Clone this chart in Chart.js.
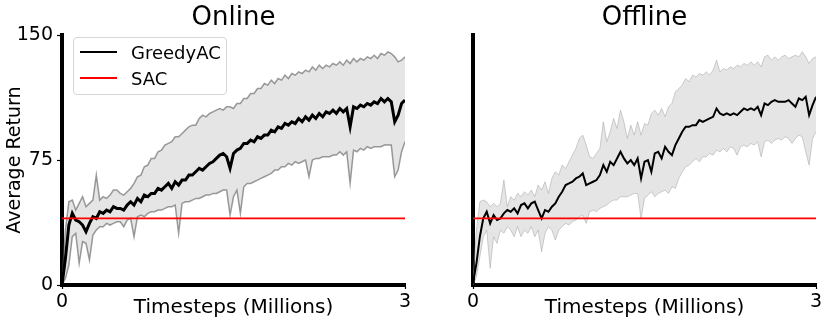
<!DOCTYPE html>
<html>
<head>
<meta charset="utf-8">
<script src="https://cdn.jsdelivr.net/npm/chart.js@4.4.1/dist/chart.umd.min.js"></script>
<style>
  body { margin: 0; background: #fff; width: 830px; height: 329px; position: relative; overflow: hidden; font-family: 'DejaVu Sans', sans-serif; }
  canvas { position: absolute; top: 0; }
  #onlineChart { left: 0; }
  #offlineChart { left: 415px; }
  #legend { position: absolute; left: 73px; top: 37px; width: 152px; height: 56px; border: 1px solid #d6d6d6; border-radius: 4px; background: rgba(255,255,255,0.8); }
  .item { position: absolute; left: 6px; height: 20px; display: flex; align-items: center; font-size: 18px; color: #000; }
  .swatch { width: 37px; height: 2px; margin-right: 14px; }
</style>
</head>
<body>
<canvas id="onlineChart" width="415" height="329"></canvas>
<canvas id="offlineChart" width="415" height="329"></canvas>
<div id="legend"></div>
<script>
// timesteps in millions, shared by both panels
var timesteps = [
  0, 0.03, 0.06, 0.09, 0.12, 0.15, 0.18, 0.21, 0.24, 0.27,
  0.3, 0.33, 0.36, 0.39, 0.42, 0.45, 0.48, 0.51, 0.54, 0.57,
  0.6, 0.63, 0.66, 0.69, 0.72, 0.75, 0.78, 0.81, 0.84, 0.87,
  0.9, 0.93, 0.96, 0.99, 1.02, 1.05, 1.08, 1.11, 1.14, 1.17,
  1.2, 1.23, 1.26, 1.29, 1.32, 1.35, 1.38, 1.41, 1.44, 1.47,
  1.5, 1.53, 1.56, 1.59, 1.62, 1.65, 1.68, 1.71, 1.74, 1.77,
  1.8, 1.83, 1.86, 1.89, 1.92, 1.95, 1.98, 2.01, 2.04, 2.07,
  2.1, 2.13, 2.16, 2.19, 2.22, 2.25, 2.28, 2.31, 2.34, 2.37,
  2.4, 2.43, 2.46, 2.49, 2.52, 2.55, 2.58, 2.61, 2.64, 2.67,
  2.7, 2.73, 2.76, 2.79, 2.82, 2.85, 2.88, 2.91, 2.94, 2.97,
  3
];

// Online: GreedyAC mean and band
var onlineMean = [
  0, 16, 36, 43, 39, 38, 36, 32, 37, 41,
  40, 44, 43, 45, 44, 47, 46, 46, 45, 48,
  50, 48, 52, 50, 54, 53, 55, 55, 58, 57,
  59, 61, 58, 62, 60, 63, 63, 66, 66, 68,
  70, 69, 71, 73, 74, 76, 78, 79, 77, 70,
  79, 81, 82, 85, 85, 87, 86, 89, 88, 90,
  90, 93, 92, 95, 94, 97, 96, 98, 97, 100,
  98, 101, 99, 102, 100, 103, 101, 104, 103, 105,
  103, 106, 104, 106, 95, 107, 106, 108, 107, 109,
  108, 110, 109, 112, 110, 112, 110, 98, 102, 109,
  111
];
var onlineUpper = [
  2, 33, 50, 51, 45, 49, 53, 47, 49, 51,
  66, 51, 53, 52, 54, 57, 57, 55, 54, 56,
  58, 61, 65, 66, 71, 72, 76, 76, 80, 81,
  84, 85, 86, 89, 89, 91, 93, 95, 96, 96,
  100, 102, 101, 103, 104, 105, 106, 105, 107, 107,
  106, 109, 109, 112, 112, 115, 115, 118, 118, 121,
  120, 123, 121, 124, 123, 126, 124, 127, 126, 128,
  127, 129, 128, 131, 129, 132, 130, 132, 131, 133,
  132, 134, 132, 135, 133, 136, 134, 136, 135, 137,
  136, 138, 136, 139, 138, 140, 139, 137, 134, 135,
  137
];
var onlineLower = [
  0, 4, 12, 29, 31, 13, 26, 25, 15, 30,
  33, 35, 35, 37, 36, 37, 38, 38, 35, 39,
  40, 29, 41, 42, 41, 43, 44, 44, 45, 45,
  46, 47, 47, 48, 31, 49, 50, 50, 51, 52,
  52, 53, 54, 54, 55, 55, 56, 57, 57, 42,
  53, 57, 43, 59, 61, 61, 62, 63, 64, 65,
  66, 67, 69, 69, 71, 71, 73, 72, 74, 73,
  74, 75, 65, 75, 76, 76, 77, 77, 77, 78,
  78, 80, 78, 80, 61, 81, 80, 82, 81, 83,
  82, 83, 83, 83, 84, 84, 84, 65, 69, 80,
  86
];

// Offline: GreedyAC mean and band
var offlineMean = [
  1, 13, 29, 40, 44, 37, 42, 39, 40, 43,
  45, 44, 46, 43, 48, 49, 46, 49, 50, 45,
  40, 45, 44, 47, 49, 53, 56, 60, 61, 62,
  64, 65, 67, 60, 61, 62, 63, 66, 72, 68,
  74, 72, 76, 80, 76, 73, 75, 72, 76, 64,
  74, 75, 68, 79, 80, 76, 83, 80, 78, 84,
  88, 92, 95, 95, 96, 96, 99, 98, 99, 100,
  101, 106, 103, 102, 103, 102, 103, 102, 104, 106,
  105, 106, 105, 107, 102, 109, 108, 110, 111, 110,
  110, 110, 111, 109, 107, 112, 111, 113, 102, 108,
  113
];
var offlineUpper = [
  3, 33, 50, 51, 50, 47, 49, 47, 49, 63,
  47, 53, 51, 55, 53, 56, 54, 57, 53, 60,
  57, 62, 55, 64, 68, 66, 72, 70, 74, 78,
  82, 88, 90, 84, 77, 76, 79, 82, 98, 86,
  92, 100, 94, 105, 98, 88, 96, 90, 98, 90,
  97, 96, 103, 105, 102, 106, 101, 107, 109, 116,
  118, 120, 124, 122, 126, 125, 127, 126, 128, 126,
  129, 135, 128, 130, 129, 131, 130, 132, 131, 133,
  132, 134, 132, 134, 131, 137, 138, 135, 137, 135,
  137, 138, 136, 137, 138, 137, 140, 137, 133, 136,
  137
];
var offlineLower = [
  0, 5, 17, 29, 33, 10, 29, 25, 33, 31,
  35, 33, 29, 35, 29, 33, 31, 35, 29, 33,
  20, 31, 35, 33, 27, 33, 35, 37, 36, 38,
  39, 41, 42, 37, 44, 45, 44, 46, 47, 48,
  50, 51, 51, 53, 53, 53, 54, 55, 55, 40,
  52, 54, 56, 53, 55, 56, 57, 55, 59, 58,
  64, 68, 71, 72, 74, 76, 74, 77, 77, 79,
  78, 81, 80, 82, 80, 83, 82, 78, 83, 84,
  83, 85, 84, 86, 77, 86, 87, 85, 87, 88,
  87, 89, 88, 85, 88, 90, 89, 80, 72, 88,
  92
];

// SAC baseline (flat)
var sacX = [0, 3];
var sacOnline = [40, 40];
var sacOffline = [40, 40];

var FONT = "'DejaVu Sans', sans-serif";

function pts(xs, ys) {
  return xs.map(function (x, i) { return { x: x, y: ys[i] }; });
}

function datasets(mean, upper, lower, sac, edgeColor, edgeWidth, meanWidth) {
  return [
    { label: 'SAC', data: pts(sacX, sac), borderColor: '#ff0000', borderWidth: 1.8, pointRadius: 0, fill: false },
    { label: 'GreedyAC', data: pts(timesteps, mean), borderColor: '#000', borderWidth: meanWidth, pointRadius: 0, fill: false },
    { label: 'upper', data: pts(timesteps, upper), borderColor: edgeColor, borderWidth: edgeWidth, pointRadius: 0,
      fill: '+1', backgroundColor: 'rgba(0,0,0,0.1)' },
    { label: 'lower', data: pts(timesteps, lower), borderColor: edgeColor, borderWidth: edgeWidth, pointRadius: 0, fill: false }
  ];
}

function options(title, showY, yWidth, padRight) {
  return {
    responsive: false,
    animation: false,
    layout: { padding: { left: 0, right: padRight, top: 0, bottom: 0 } },
    plugins: {
      legend: { display: false },
      tooltip: { enabled: false },
      filler: { drawTime: 'beforeDatasetsDraw' },
      title: {
        display: true, text: title, fullSize: false, color: '#000',
        font: { family: FONT, size: 26, weight: 'normal' },
        padding: { top: 3, bottom: 1 }
      }
    },
    scales: {
      x: {
        type: 'linear', min: 0, max: 3,
        ticks: { stepSize: 3, color: '#000', font: { family: FONT, size: 19 }, padding: 2, maxRotation: 0,
                 callback: function (v) { return v; } },
        grid: { drawOnChartArea: false, drawTicks: true, tickLength: 4, tickColor: '#000', tickWidth: 1.2 },
        border: { display: true, color: '#000', width: 4 },
        title: { display: true, text: 'Timesteps (Millions)', color: '#000',
                 font: { family: FONT, size: 20 }, padding: { top: 0, bottom: 9 } },
        afterFit: function (s) { s.height = 44; }
      },
      y: {
        min: 0, max: 150,
        ticks: { display: showY, stepSize: 75, color: '#000', font: { family: FONT, size: 19 }, padding: 4 },
        grid: { drawOnChartArea: false, drawTicks: showY, tickLength: 5, tickColor: '#000', tickWidth: 1.2 },
        border: { display: true, color: '#000', width: 4 },
        title: { display: showY, text: 'Average Return', color: '#000',
                 font: { family: FONT, size: 19 }, padding: { top: 4, bottom: 0 } },
        afterFit: function (s) { s.width = yWidth; }
      }
    }
  };
}

var onlineChart = new Chart(document.getElementById('onlineChart'), {
  type: 'line',
  data: { datasets: datasets(onlineMean, onlineUpper, onlineLower, sacOnline, 'rgba(90,90,90,0.6)', 1.5, 3) },
  options: options('Online', true, 62, 10)
});

var offlineChart = new Chart(document.getElementById('offlineChart'), {
  type: 'line',
  data: { datasets: datasets(offlineMean, offlineUpper, offlineLower, sacOffline, 'rgba(160,160,160,0.5)', 1, 2) },
  options: options('Offline', false, 58, 14)
});

// legend box like the reference (GreedyAC first, then SAC)
var legend = document.getElementById('legend');
var entries = [onlineChart.data.datasets[1], onlineChart.data.datasets[0]];
entries.forEach(function (ds, i) {
  var row = document.createElement('div');
  row.className = 'item';
  row.style.top = (4 + i * 26) + 'px';
  var sw = document.createElement('span');
  sw.className = 'swatch';
  sw.style.background = ds.borderColor;
  var txt = document.createElement('span');
  txt.textContent = ds.label;
  row.appendChild(sw);
  row.appendChild(txt);
  legend.appendChild(row);
});
</script>
</body>
</html>
